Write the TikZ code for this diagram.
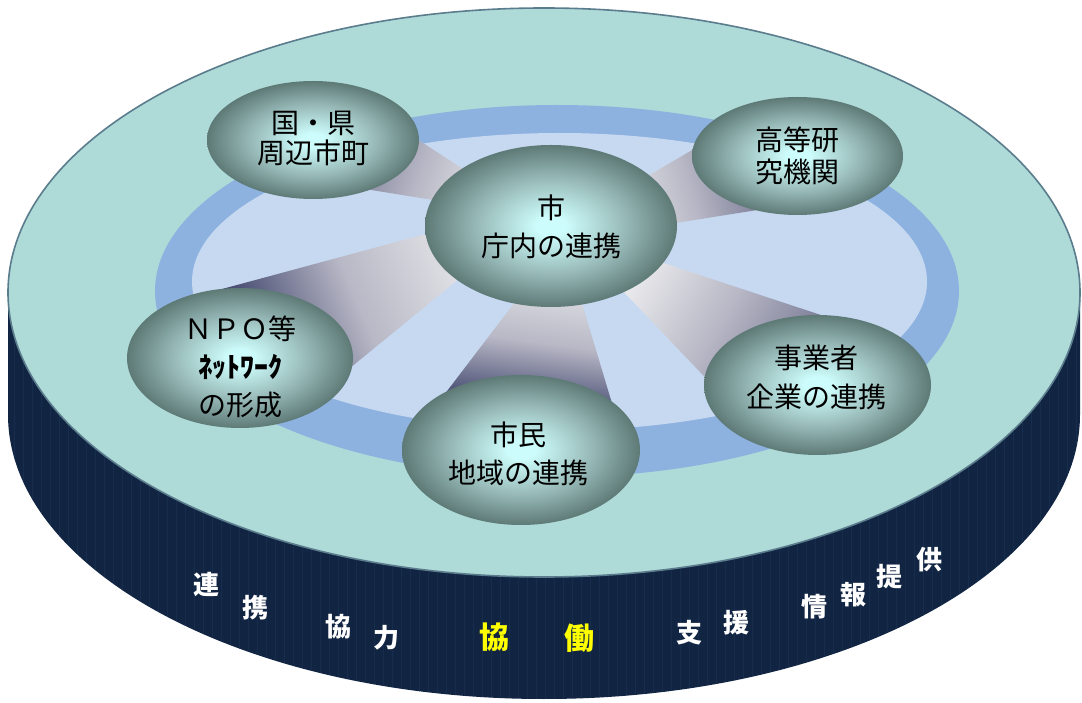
\documentclass[tikz,border=0pt]{standalone}
\usepackage{fontspec}
\setmainfont{Noto Sans CJK JP}
\usetikzlibrary{shapes.geometric}
\definecolor{topteal}{HTML}{AEDAD8}
\definecolor{rim}{HTML}{5B7C8C}
\definecolor{sidecol}{HTML}{112543}
\definecolor{stripe}{HTML}{24406A}
\definecolor{ringcol}{HTML}{8EB2E0}
\definecolor{innercol}{HTML}{C6D9F1}
\definecolor{ballin}{HTML}{CCFCFB}
\definecolor{ballmid}{HTML}{9BBEBC}
\definecolor{ballout}{HTML}{5E7A77}
\definecolor{beamdark}{HTML}{2C355A}
\definecolor{beamdarkb}{HTML}{5A5E80}
\definecolor{beamsoft}{HTML}{6C6C8C}
\definecolor{beamsoftb}{HTML}{8C8CA4}
\definecolor{beammid}{HTML}{B8B8C6}
\definecolor{beamlight}{HTML}{EEEEF0}
\definecolor{hiyellow}{HTML}{FFFF00}
\pgfdeclareradialshading{ballshade}{\pgfpoint{0bp}{0bp}}{color(0bp)=(ballin); color(3bp)=(ballin); color(14bp)=(ballmid); color(25bp)=(ballout); color(50bp)=(ballout)}
\pgfdeclareverticalshading{beamshade}{100bp}{color(0bp)=(beamlight); color(25bp)=(beamlight); color(50bp)=(beammid); color(66bp)=(beamdarkb); color(75bp)=(beamdark); color(100bp)=(beamdark)}
\pgfdeclareverticalshading{beamshadesoft}{100bp}{color(0bp)=(beamlight); color(25bp)=(beamlight); color(50bp)=(beammid); color(66bp)=(beamsoftb); color(75bp)=(beamsoft); color(100bp)=(beamsoft)}
\tikzset{
  ball/.style={ellipse, draw=none, inner sep=0pt, shade, shading=ballshade},
  lbl/.style={font=\fontsize{28}{38}\selectfont, align=center, text=black, inner sep=0pt},
  sidechar/.style={font=\bfseries\fontsize{26}{26}\selectfont, text=white, inner sep=0pt},
  hichar/.style={font=\bfseries\fontsize{30}{30}\selectfont, text=hiyellow, inner sep=0pt},
  beam/.style={shade, shading=beamshade},
  softbeam/.style={shade, shading=beamshadesoft}
}
\begin{document}
\begin{tikzpicture}[x=1pt,y=1pt]
\useasboundingbox (0,0) rectangle (1082,702);
% side of the disc
\fill[sidecol] (8,409.5) -- (8,287.5) arc[start angle=180, end angle=360, x radius=536pt, y radius=284.5pt] -- (1080,409.5) -- cycle;
\begin{scope}
  \clip (8,409.5) -- (8,287.5) arc[start angle=180, end angle=360, x radius=536pt, y radius=284.5pt] -- (1080,409.5) -- cycle;
  \foreach \i in {0,...,119} {
    \draw[stripe, line width=0.6pt, opacity=0.3] (14+\i*9,0) -- (14+\i*9,420);
  }
\end{scope}
% top of the disc
\filldraw[fill=topteal, draw=rim, line width=1.6pt] (544,409.5) ellipse[x radius=536pt, y radius=284.5pt];
% ring
\fill[ringcol] (557,411) ellipse[x radius=402pt, y radius=186pt];
\fill[innercol] (559.5,420.4) ellipse[x radius=367.5pt, y radius=148.6pt];
% beams
\path[softbeam, shading angle=70] (340,613) -- (520,496) -- (520,488) -- (340,517) -- cycle;
\path[beam, shading angle=113] (200,407) -- (520,493.5) -- (520,473.2) -- (300,293) -- cycle;
\path[beam, shading angle=172.4] (547,442) -- (569,442) -- (617,282) -- (425,282) -- cycle;
\path[softbeam, shading angle=-74] (600,498) -- (740,580) -- (770,494) -- (600,467) -- cycle;
\path[softbeam, shading angle=-121] (600,460) -- (830,384) -- (740,288) -- (600,435) -- cycle;
% ellipses
\node[ball, minimum width=212pt, minimum height=118pt] (kuni) at (313,562) {};
\node[ball, minimum width=211pt, minimum height=118pt] (kotou) at (797.5,546) {};
\node[ball, minimum width=252pt, minimum height=162pt] (shi) at (551,476) {};
\node[ball, minimum width=226pt, minimum height=140pt] (npo) at (240,344) {};
\node[ball, minimum width=227pt, minimum height=140pt] (jigyo) at (817.5,317) {};
\node[ball, minimum width=238pt, minimum height=150pt] (shimin) at (521,252) {};
% labels
\node[lbl, font=\fontsize{28}{30}\selectfont] (kuni-t) at (313,564) {国・県\\周辺市町};
\node[lbl, font=\fontsize{28}{32}\selectfont] (kotou-t) at (797,546) {高等研\\究機関};
\node[lbl] (shi-t) at (551,475) {市\\庁内の連携};
\node[lbl] (npo-t) at (240,335.5) {ＮＰＯ等\\{\bfseries ﾈｯﾄﾜｰｸ}\\の形成};
\node[lbl, font=\fontsize{28}{39}\selectfont] (jigyo-t) at (816,324.5) {事業者\\企業の連携};
\node[lbl] (shimin-t) at (518,248) {市民\\地域の連携};
% side characters
\node[sidechar] (c1) at (206,117) {連};
\node[sidechar] (c2) at (255,94) {携};
\node[sidechar] (c3) at (338,75) {協};
\node[sidechar] (c4) at (386,64) {力};
\node[hichar] (c5) at (494,65) {協};
\node[hichar] (c6) at (579,64) {働};
\node[sidechar] (c7) at (689,69) {支};
\node[sidechar] (c8) at (736,79) {援};
\node[sidechar] (c9) at (814,95) {情};
\node[sidechar] (c10) at (853,107) {報};
\node[sidechar] (c11) at (889,125) {提};
\node[sidechar] (c12) at (929,142) {供};
\end{tikzpicture}
\end{document}
